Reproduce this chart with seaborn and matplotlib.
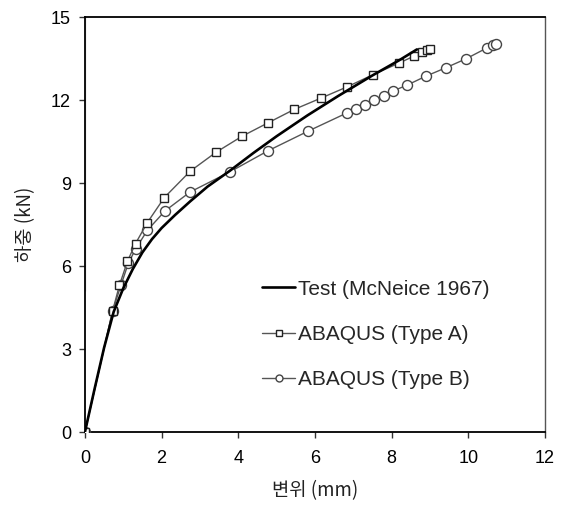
import matplotlib
matplotlib.use("Agg")
import matplotlib.pyplot as plt
import seaborn as sns
import pandas as pd
from matplotlib.lines import Line2D

# ---- data ----
test_x = [0.0, 0.25, 0.5, 0.75, 1.0, 1.25, 1.5, 1.75, 2.0, 2.35, 2.75, 3.2, 3.78, 4.4, 5.0, 5.8, 6.6, 7.5, 8.2, 8.66]
test_y = [0.0, 1.55, 3.05, 4.35, 5.2, 5.9, 6.5, 6.98, 7.38, 7.85, 8.35, 8.88, 9.45, 10.1, 10.7, 11.45, 12.15, 12.9, 13.45, 13.84]
test_vert_x = [0.0, 0.0]
test_vert_y = [5.1, 15.0]

typeA_x = [0.0, 0.72, 0.9, 1.11, 1.32, 1.63, 2.07, 2.75, 3.42, 4.1, 4.77, 5.46, 6.16, 6.83, 7.52, 8.2, 8.57, 8.78, 8.91, 9.0]
typeA_y = [0.0, 4.37, 5.31, 6.18, 6.82, 7.58, 8.48, 9.44, 10.12, 10.7, 11.18, 11.67, 12.08, 12.48, 12.93, 13.35, 13.59, 13.74, 13.83, 13.87]

typeB_x = [0.0, 0.72, 0.94, 1.13, 1.33, 1.63, 2.09, 2.74, 3.78, 4.77, 5.83, 6.83, 7.07, 7.3, 7.55, 7.8, 8.04, 8.39, 8.89, 9.42, 9.94, 10.48, 10.63, 10.71]
typeB_y = [0.0, 4.37, 5.31, 6.1, 6.64, 7.3, 8.0, 8.68, 9.41, 10.17, 10.89, 11.54, 11.67, 11.84, 12.02, 12.17, 12.34, 12.54, 12.87, 13.18, 13.5, 13.89, 13.99, 14.02]

labels = ["Test (McNeice 1967)", "ABAQUS (Type A)", "ABAQUS (Type B)"]
x_ticks = [0, 2, 4, 6, 8, 10, 12]
y_ticks = [0, 3, 6, 9, 12, 15]
x_label = "변위 (mm)"
y_label = "하중 (kN)"

sns.set_style("white")
plt.rcParams["font.family"] = ["Liberation Sans", "Noto Sans CJK KR", "DejaVu Sans"]

fig = plt.figure(figsize=(5.66, 5.09), dpi=100)
ax = fig.add_axes([0.150, 0.151, 0.813, 0.815])

df_test = pd.DataFrame({"x": test_x, "y": test_y})
df_a = pd.DataFrame({"x": typeA_x, "y": typeA_y})
df_b = pd.DataFrame({"x": typeB_x, "y": typeB_y})

sns.lineplot(data=df_b, x="x", y="y", sort=False, ax=ax, color="#555555", lw=1.0,
             marker="o", markersize=7.2, markerfacecolor="white", markeredgecolor="#444444",
             markeredgewidth=1.0, zorder=3)
sns.lineplot(data=df_a, x="x", y="y", sort=False, ax=ax, color="#555555", lw=1.0,
             marker="s", markersize=6.2, markerfacecolor="white", markeredgecolor="#222222",
             markeredgewidth=1.0, zorder=4)
sns.lineplot(data=df_test, x="x", y="y", sort=False, ax=ax, color="black", lw=1.9, zorder=5)
sns.lineplot(x=test_vert_x, y=test_vert_y, sort=False, ax=ax, color="black", lw=1.9, zorder=5)

ax.set_xlim(0, 12)
ax.set_ylim(0, 15)
ax.set_xticks(x_ticks)
ax.set_yticks(y_ticks)
ax.tick_params(axis="both", direction="out", length=4, width=1, colors="#333333",
               labelsize=13, labelcolor="black", bottom=True, left=True, pad=6)
ax.tick_params(axis="x", pad=9)

for side in ["left", "bottom", "top"]:
    ax.spines[side].set_color("black")
    ax.spines[side].set_linewidth(1.3)
ax.spines["right"].set_color("#555555")
ax.spines["right"].set_linewidth(1.0)

ax.set_xlabel(x_label, fontsize=13.5, family=["Noto Sans CJK KR", "Liberation Sans"], labelpad=9, color="#222222")
ax.set_ylabel(y_label, fontsize=13.5, family=["Noto Sans CJK KR", "Liberation Sans"], labelpad=11, color="#222222")

handles = [
    Line2D([], [], color="black", lw=1.9),
    Line2D([], [], color="#555555", lw=1.0, marker="s", markersize=4.5,
           markerfacecolor="white", markeredgecolor="#222222"),
    Line2D([], [], color="#555555", lw=1.0, marker="o", markersize=5,
           markerfacecolor="white", markeredgecolor="#444444"),
]
leg = ax.legend(handles, labels, loc="upper left", bbox_to_anchor=(0.367, 0.388),
                frameon=False, fontsize=15, handlelength=1.6, handletextpad=0.12,
                labelspacing=1.27, borderaxespad=0)

fig.savefig("out.png", dpi=100)
